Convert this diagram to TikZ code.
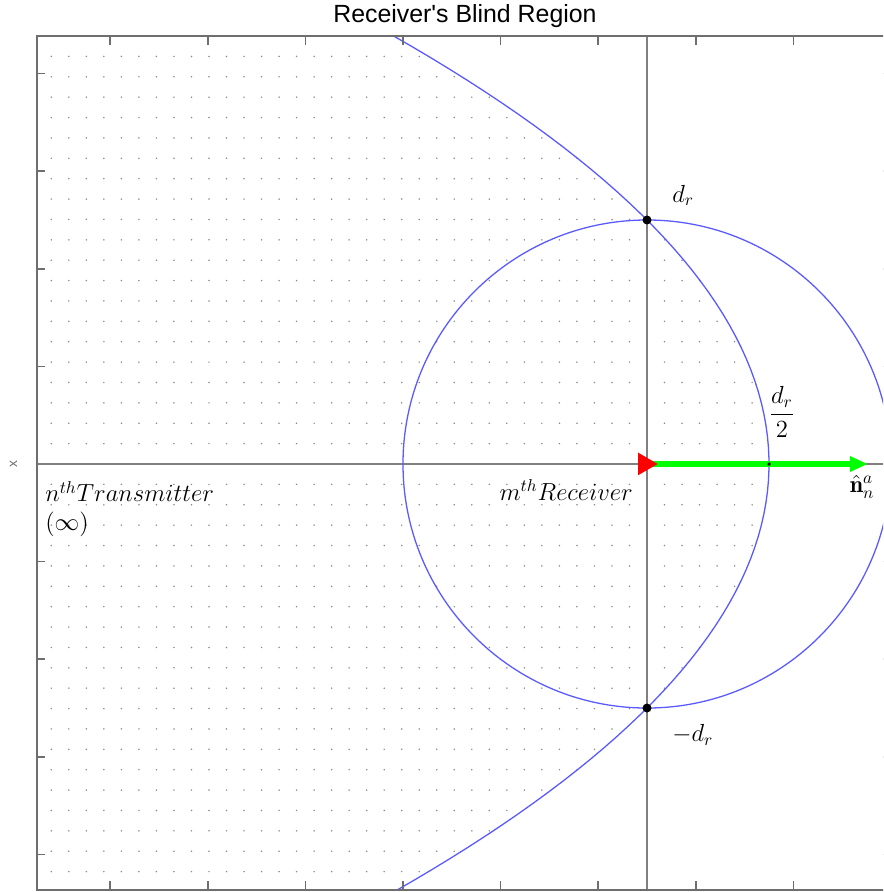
\documentclass[tikz,border=0pt]{standalone}
\usepackage{amsmath,amssymb}
\usepackage{fontspec}
\newfontfamily\titlefont{Liberation Sans}
\usetikzlibrary{arrows.meta}
\definecolor{curveblue}{RGB}{90,90,255}
\definecolor{arrowgreen}{RGB}{0,255,0}
\definecolor{framegray}{RGB}{110,110,110}
\definecolor{axisgray}{RGB}{128,128,128}
\definecolor{dotgray}{RGB}{140,140,140}

\begin{document}
\begin{tikzpicture}[x=2cm,y=2cm,
  curve/.style={curveblue, line width=0.75pt},
  axisline/.style={axisgray, line width=0.9pt},
  tick/.style={framegray, line width=0.9pt},
  lbl/.style={inner sep=0pt, font=\fontsize{14}{17}\selectfont},
  pt/.style={fill=black, draw=none}]
\useasboundingbox (-6.629,-4.385) rectangle (2.418,4.754);
\clip (-6.629,-4.385) rectangle (2.418,4.754);

% Blind region: dot grid inside the parabola
\begin{scope}
\clip (-6.25,-4.365) rectangle (2.5,4.385);
\clip plot[domain=-4.6:4.6, samples=80] ({1.25-\x*\x/5}, \x) -- (-7,4.6) -- (-7,-4.6) -- cycle;
\foreach \i in {-34,...,13}
  \foreach \j in {-20,...,20}
    \fill[dotgray] (\i*0.1795, \j*0.2088) circle (0.5pt);
\end{scope}

% Axes through the receiver
\draw[axisline] (-6.25,0) -- (2.5,0);
\draw[axisline] (0,-4.365) -- (0,4.385);

% Circle of radius d_r and the parabola, cut at the frame
\begin{scope}
\clip (-6.25,-4.365) rectangle (2.5,4.385);
\draw[curve] (0,0) circle (2.5);
\draw[curve] plot[domain=-4.5:4.5, samples=80] ({1.25-\x*\x/5}, \x);
\end{scope}

% Frame and ticks
\draw[framegray, line width=1.2pt] (-6.25,-4.365) rectangle (2.5,4.385);
\foreach \x in {-5.5,-4.5,...,1.5} {
  \draw[tick] (\x,4.385) -- (\x,4.295);
  \draw[tick] (\x,-4.365) -- (\x,-4.275);
}
\foreach \y in {-4,-3,-2,-1,1,2,3,4} {
  \draw[tick] (-6.25,\y) -- (-6.17,\y);
  \draw[tick] (2.5,\y) -- (2.42,\y);
}

% Receiver direction
\coordinate (rxpos) at (0.06,0);
\coordinate (dirtip) at (2.264,0);
\draw[arrowgreen, line width=3.8pt, -{Triangle[length=10.5pt, width=8.5pt]}] (rxpos) -- (dirtip);
\fill[red] (-0.092,0.117) -- (0.11,0) -- (-0.092,-0.115) -- cycle;

% Marked points
\fill[pt] (0,2.5) circle (0.046);
\fill[pt] (0,-2.5) circle (0.046);
\fill[pt] (1.25,0) circle (0.018);

% Labels
\node[lbl, anchor=base west] (dtop) at (0.256,2.684) {$d_r$};
\node[lbl, anchor=base west] (dbot) at (0.256,-2.848) {$-d_r$};
\node[lbl] (dhalf) at (1.383,0.533) {$\dfrac{d_r}{2}$};
\node[lbl] (nhat) at (2.203,-0.236) {$\hat{\mathbf{n}}_n^a$};
\node[lbl, anchor=base east] (rxlabel) at (-0.143,-0.369) {$m^{th}Receiver$};
\node[lbl, anchor=base west] (txlabel) at (-6.168,-0.389) {$n^{th}Transmitter$};
\node[lbl, anchor=base west] (txinf) at (-6.168,-0.686) {$(\infty)$};
\node[inner sep=0pt, font=\titlefont\fontsize{14.5}{17}\selectfont] (title) at (-1.865,4.59) {Receiver's Blind Region};
\node[inner sep=0pt, rotate=90, text=framegray, font=\titlefont\fontsize{8}{9}\selectfont] (ylabel) at (-6.49,0) {x};

\end{tikzpicture}
\end{document}
